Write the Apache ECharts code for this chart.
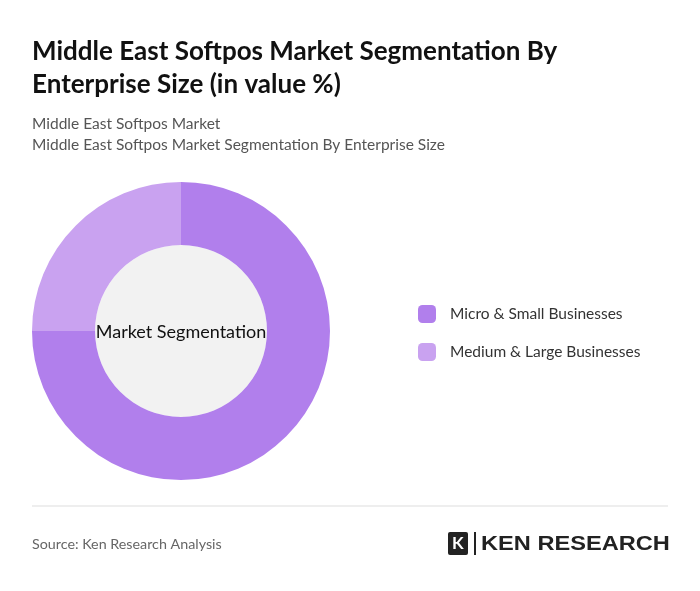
<!DOCTYPE html>
<html><head><meta charset="utf-8">
<script src="https://cdn.jsdelivr.net/npm/echarts@6/dist/echarts.min.js"></script>
<style>html,body{margin:0;padding:0;background:#fff}#c{width:700px;height:591px}</style>
</head><body><div id="c"></div>
<script>
const categories = ["Micro & Small Businesses", "Medium & Large Businesses"];
const values = [75, 25];
const colors = ["#b17fec", "#c9a2f0"];
const chart = echarts.init(document.getElementById('c'));
chart.setOption({
  backgroundColor: '#fff',
  title: [
    {text: 'Middle East Softpos Market Segmentation By\nEnterprise Size (in value %)', left: 27, top: 30,
     textStyle: {fontFamily: 'Lato', fontSize: 26, fontWeight: 'bold', color: '#111', lineHeight: 33}},
    {text: 'Middle East Softpos Market\nMiddle East Softpos Market Segmentation By Enterprise Size', left: 27, top: 108,
     textStyle: {fontFamily: 'Lato', fontSize: 15.5, fontWeight: 'normal', color: '#555', lineHeight: 21}},
    {text: 'Source: Ken Research Analysis', left: 27, top: 532,
     textStyle: {fontFamily: 'Lato', fontSize: 14.3, fontWeight: 'normal', color: '#666'}}
  ],
  legend: {orient: 'vertical', left: 413, top: 300, itemWidth: 18, itemHeight: 18, itemGap: 20,
    icon: 'roundRect', textStyle: {fontFamily: 'Lato', fontSize: 15.5, color: '#333', padding: [0,0,0,9]},
    data: categories},
  graphic: [
    {type: 'circle', shape: {cx: 181, cy: 331, r: 86}, style: {fill: '#f2f2f2'}, z: 0},
    {type: 'text', x: 181, y: 332, style: {text: 'Market Segmentation', fontFamily: 'Lato', fontSize: 18,
      fill: '#111', align: 'center', verticalAlign: 'middle'}, z: 10},
    {type: 'line', shape: {x1: 32, y1: 506, x2: 668, y2: 506}, style: {stroke: '#ddd', lineWidth: 1}},
    {type: 'rect', shape: {x: 448, y: 532, width: 20, height: 23, r: 2}, style: {fill: '#222'}},
    {type: 'text', x: 452, y: 544, style: {text: 'K', fontFamily: 'Lato', fontWeight: 'bold', fontSize: 17, fill: '#fff', verticalAlign: 'middle'}},
    {type: 'rect', shape: {x: 474, y: 532, width: 2, height: 23}, style: {fill: '#222'}},
    {type: 'text', x: 481, y: 544, scaleX: 1.18, style: {text: 'KEN RESEARCH', fontFamily: 'Liberation Sans', fontWeight: 'bold', fontSize: 20, fill: '#222', verticalAlign: 'middle'}}
  ],
  series: [{
    type: 'pie', center: [181, 331], radius: [86, 149], startAngle: 90, clockwise: true,
    label: {show: false}, labelLine: {show: false}, silent: true,
    data: categories.map((n, i) => ({name: n, value: values[i], itemStyle: {color: colors[i]}}))
  }]
});
</script></body></html>
